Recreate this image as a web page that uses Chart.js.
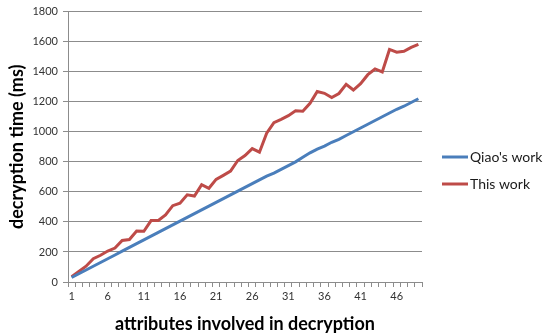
<!DOCTYPE html>
<html>
<head>
<meta charset="utf-8">
<script src="https://cdn.jsdelivr.net/npm/chart.js@4"></script>
<style>
  html, body { margin: 0; padding: 0; background: #fff; }
  #wrap { width: 550px; height: 335px; }
</style>
</head>
<body>
<div id="wrap"><canvas id="chart" width="550" height="335"></canvas></div>
<script>
// attributes 1..49
const attributes = ['1','2','3','4','5','6','7','8','9','10','11','12','13','14','15','16','17','18','19','20',
  '21','22','23','24','25','26','27','28','29','30','31','32','33','34','35','36','37','38','39','40',
  '41','42','43','44','45','46','47','48','49'];

const qiaoWork = [30, 55, 80, 105, 130, 155, 180, 205, 230, 255, 280, 305, 330, 355, 380, 405, 430, 455, 480, 505,
  530, 555, 580, 605, 630, 655, 680, 705, 725, 750, 775, 800, 830, 860, 885, 905, 930, 950, 975, 1000,
  1025, 1050, 1075, 1100, 1125, 1150, 1170, 1195, 1220];

const thisWork = [35, 70, 105, 155, 178, 206, 226, 277, 283, 340, 338, 409, 409, 446, 508, 525, 580, 572, 648, 624,
  683, 710, 738, 809, 842, 888, 864, 990, 1061, 1083, 1107, 1140, 1137, 1190, 1268, 1256, 1228, 1255, 1316, 1278,
  1320, 1380, 1418, 1398, 1548, 1530, 1536, 1562, 1582];

const seriesNames = ["Qiao's work", 'This work'];
const yTicks = [0, 200, 400, 600, 800, 1000, 1200, 1400, 1600, 1800];

const FONT = 'Lato, "Open Sans", sans-serif';

// legend drawn at the right side, Excel style (short line + label)
const sideLegend = {
  id: 'sideLegend',
  afterDraw(chart) {
    const ctx = chart.ctx;
    ctx.save();
    ctx.font = '14px ' + FONT;
    ctx.textBaseline = 'middle';
    chart.data.datasets.forEach((ds, i) => {
      const y = 157 + i * 27;
      ctx.strokeStyle = ds.borderColor;
      ctx.lineWidth = 3;
      ctx.beginPath();
      ctx.moveTo(442, y);
      ctx.lineTo(468, y);
      ctx.stroke();
      ctx.fillStyle = '#1a1a1a';
      ctx.fillText(ds.label, 470, y);
    });
    ctx.restore();
  }
};

const ctx = document.getElementById('chart').getContext('2d');
new Chart(ctx, {
  type: 'line',
  data: {
    labels: attributes,
    datasets: [
      { label: seriesNames[0], data: qiaoWork, borderColor: '#4a7ebb', borderWidth: 3, pointRadius: 0, tension: 0 },
      { label: seriesNames[1], data: thisWork, borderColor: '#be4b48', borderWidth: 3, pointRadius: 0, tension: 0 }
    ]
  },
  options: {
    responsive: false,
    animation: false,
    layout: { padding: { left: 0, right: 128, top: 9, bottom: 0 } },
    plugins: {
      legend: { display: false },
      tooltip: { enabled: false }
    },
    scales: {
      x: {
        type: 'category',
        offset: true,
        afterFit(scale) { scale.height = 53; },
        grid: { offset: true, drawOnChartArea: false, drawTicks: true, tickLength: 5, color: '#8c8c8c' },
        border: { color: '#8c8c8c' },
        ticks: {
          autoSkip: false,
          maxRotation: 0,
          padding: 3,
          color: '#333',
          font: { family: FONT, size: 11 },
          callback(v, i) { return i % 5 === 0 ? attributes[i] : ''; }
        },
        title: {
          display: true,
          text: 'attributes involved in decryption',
          color: '#000',
          font: { family: FONT, size: 18, weight: 'bold' },
          padding: { top: 2, bottom: 0 }
        }
      },
      y: {
        min: 0,
        max: 1800,
        afterFit(scale) { scale.width = 68; },
        afterBuildTicks(scale) { scale.ticks = yTicks.map(v => ({ value: v })); },
        grid: { color: '#8c8c8c', tickLength: 5 },
        border: { color: '#8c8c8c' },
        ticks: {
          padding: 5,
          color: '#333',
          font: { family: FONT, size: 11 },
          callback(v) { return String(v); }
        },
        title: {
          display: true,
          text: 'decryption time (ms)',
          color: '#000',
          font: { family: FONT, size: 18, weight: 'bold' },
          padding: { top: 6, bottom: 0 }
        }
      }
    }
  },
  plugins: [sideLegend]
});
</script>
</body>
</html>
